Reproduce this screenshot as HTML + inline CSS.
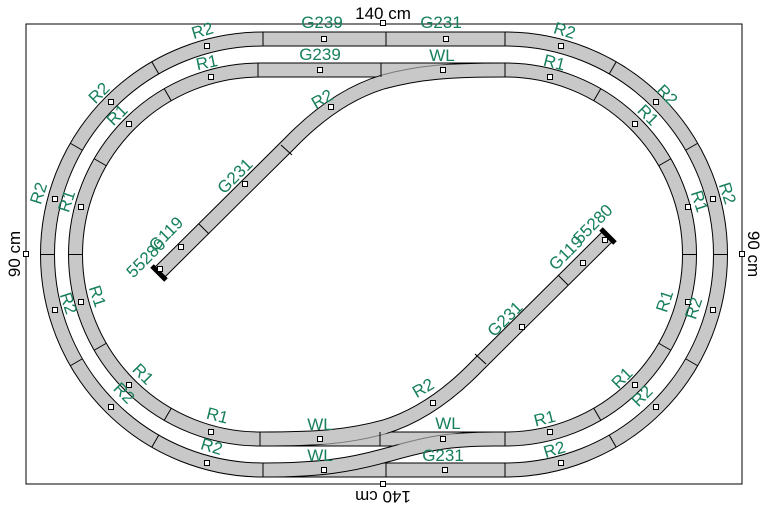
<!DOCTYPE html>
<html><head><meta charset="utf-8"><style>
html,body{margin:0;padding:0;background:#fff;}
svg{display:block;}
text{font-family:"Liberation Sans",sans-serif;font-size:17px;fill:#17805a;}
.k{fill:#000;}
</style></head><body>
<svg width="771" height="510" viewBox="0 0 771 510" xmlns="http://www.w3.org/2000/svg">
<rect x="26" y="24" width="716" height="460" fill="none" stroke="#000" stroke-width="1"/>
<g fill="none" stroke-linejoin="round">
<!-- outer loop -->
<path d="M263,39 H505 A215.5,215.5 0 0 1 505,470 H263 A215.5,215.5 0 0 1 263,39 Z" stroke="#000" stroke-width="15"/>
<path d="M263,39 H505 A215.5,215.5 0 0 1 505,470 H263 A215.5,215.5 0 0 1 263,39 Z" stroke="#c8c8c8" stroke-width="13"/>
<!-- inner loop -->
<path d="M260,70 H505 A184.5,184.5 0 0 1 505,439 H260 A184.5,184.5 0 0 1 260,70 Z" stroke="#000" stroke-width="15"/>
<path d="M260,70 H505 A184.5,184.5 0 0 1 505,439 H260 A184.5,184.5 0 0 1 260,70 Z" stroke="#c8c8c8" stroke-width="13"/>
<!-- top S -->
<path d="M505,70 C450,70 420,72 383,82 C350,92 320,112 290,143 L160,272" stroke="#000" stroke-width="15"/>
<path d="M505,70 C450,70 420,72 383,82 C350,92 320,112 290,143 L160,272" stroke="#c8c8c8" stroke-width="13"/>
<!-- bottom S -->
<path d="M262,439 C317,439 347,437 384,427 C417,417 447,397 477,366 L607,237" stroke="#000" stroke-width="15"/>
<path d="M262,439 C317,439 347,437 384,427 C417,417 447,397 477,366 L607,237" stroke="#c8c8c8" stroke-width="13"/>
<!-- bottom crossover -->
<path d="M495,439 C440,439 420,446 383,456 C350,465 320,470 265,470" stroke="#000" stroke-width="15"/>
<path d="M495,439 C440,439 420,446 383,456 C350,465 320,470 265,470" stroke="#c8c8c8" stroke-width="13"/>
<!-- restore main straights on top -->
<path d="M258,70 H505 M260,439 H505" stroke="#c8c8c8" stroke-width="11" opacity="0.6"/>
</g>
<g stroke="#000" stroke-width="1">
<!-- straight ties -->
<line x1="263" y1="32" x2="263" y2="46"/><line x1="386" y1="32" x2="386" y2="46"/><line x1="505" y1="32" x2="505" y2="46"/>
<line x1="263" y1="463" x2="263" y2="477"/><line x1="386" y1="463" x2="386" y2="477"/><line x1="505" y1="463" x2="505" y2="477"/>
<line x1="258" y1="63" x2="258" y2="77"/><line x1="381" y1="63" x2="381" y2="77"/><line x1="505" y1="63" x2="505" y2="77"/>
<line x1="260" y1="432" x2="260" y2="446"/><line x1="380" y1="432" x2="380" y2="446"/><line x1="505" y1="432" x2="505" y2="446"/>
<!-- outer curve ties -->
<line x1="158.75" y1="73.9" x2="151.75" y2="61.8"/><line x1="82.4" y1="150.25" x2="70.3" y2="143.25"/><line x1="40.5" y1="254.5" x2="54.5" y2="254.5"/>
<line x1="158.75" y1="435.1" x2="151.75" y2="447.2"/><line x1="82.4" y1="358.75" x2="70.3" y2="365.75"/>
<line x1="609.25" y1="73.9" x2="616.25" y2="61.8"/><line x1="685.6" y1="150.25" x2="697.7" y2="143.25"/><line x1="713.5" y1="254.5" x2="727.5" y2="254.5"/>
<line x1="609.25" y1="435.1" x2="616.25" y2="447.2"/><line x1="685.6" y1="358.75" x2="697.7" y2="365.75"/>
<!-- inner curve ties -->
<line x1="171.25" y1="100.8" x2="164.25" y2="88.7"/><line x1="106.3" y1="165.75" x2="94.2" y2="158.75"/><line x1="68.5" y1="254.5" x2="82.5" y2="254.5"/>
<line x1="171.25" y1="408.2" x2="164.25" y2="420.3"/><line x1="106.3" y1="343.25" x2="94.2" y2="350.25"/>
<line x1="593.75" y1="100.8" x2="600.75" y2="88.7"/><line x1="658.7" y1="165.75" x2="670.8" y2="158.75"/><line x1="682.5" y1="254.5" x2="696.5" y2="254.5"/>
<line x1="593.75" y1="408.2" x2="600.75" y2="420.3"/><line x1="658.7" y1="343.25" x2="670.8" y2="350.25"/>
<!-- S ties -->
<line x1="281" y1="145" x2="292" y2="155"/><line x1="199" y1="224" x2="209" y2="234"/>
<line x1="486" y1="364" x2="475" y2="354"/><line x1="568" y1="285" x2="558" y2="275"/>
</g>
<!-- bumpers -->
<line x1="152" y1="266" x2="166" y2="280" stroke="#000" stroke-width="5"/>
<line x1="615" y1="243" x2="601" y2="229" stroke="#000" stroke-width="5"/>
<g fill="#fff" stroke="#000" stroke-width="1">
<rect x="380.5" y="20.5" width="5" height="5"/><rect x="380.5" y="481.5" width="5" height="5"/>
<rect x="23.5" y="251.5" width="5" height="5"/><rect x="739.5" y="251.5" width="5" height="5"/>
<rect x="321.5" y="36.5" width="5" height="5"/><rect x="443.5" y="36.5" width="5" height="5"/>
<rect x="317.5" y="67.5" width="5" height="5"/><rect x="440.5" y="67.5" width="5" height="5"/>
<rect x="204.5" y="43.5" width="5" height="5"/><rect x="558.5" y="43.5" width="5" height="5"/>
<rect x="208.5" y="74.5" width="5" height="5"/><rect x="547.5" y="74.5" width="5" height="5"/>
<rect x="108.5" y="99.5" width="5" height="5"/><rect x="126.5" y="121.5" width="5" height="5"/>
<rect x="653.5" y="99.5" width="5" height="5"/><rect x="632.5" y="121.5" width="5" height="5"/>
<rect x="52.5" y="196.5" width="5" height="5"/><rect x="78.5" y="204.5" width="5" height="5"/>
<rect x="710.5" y="196.5" width="5" height="5"/><rect x="685.5" y="204.5" width="5" height="5"/>
<rect x="52.5" y="307.5" width="5" height="5"/><rect x="78.5" y="299.5" width="5" height="5"/>
<rect x="710.5" y="307.5" width="5" height="5"/><rect x="685.5" y="299.5" width="5" height="5"/>
<rect x="108.5" y="404.5" width="5" height="5"/><rect x="126.5" y="382.5" width="5" height="5"/>
<rect x="653.5" y="404.5" width="5" height="5"/><rect x="632.5" y="382.5" width="5" height="5"/>
<rect x="204.5" y="460.5" width="5" height="5"/><rect x="558.5" y="460.5" width="5" height="5"/>
<rect x="208.5" y="429.5" width="5" height="5"/><rect x="547.5" y="429.5" width="5" height="5"/>
<rect x="317.5" y="436.5" width="5" height="5"/><rect x="440.5" y="436.5" width="5" height="5"/>
<rect x="321.5" y="467.5" width="5" height="5"/><rect x="442.5" y="467.5" width="5" height="5"/>
<rect x="328.5" y="104.5" width="5" height="5"/><rect x="242.5" y="181.5" width="5" height="5"/><rect x="178.5" y="244.5" width="5" height="5"/>
<rect x="430.5" y="400.5" width="5" height="5"/><rect x="519.5" y="324.5" width="5" height="5"/><rect x="580.5" y="260.5" width="5" height="5"/>
<rect x="157.5" y="266.5" width="5" height="5"/><rect x="602.5" y="237.5" width="5" height="5"/>
</g>
<text class="k" x="383" y="19" text-anchor="middle" font-size="17">140 cm</text>
<text class="k" transform="translate(383,491) rotate(180)" text-anchor="middle">140 cm</text>
<text class="k" transform="translate(20,254) rotate(-90)" text-anchor="middle">90 cm</text>
<text class="k" transform="translate(748,254) rotate(90)" text-anchor="middle">90 cm</text>
<g text-anchor="middle">
<text x="322" y="28">G239</text><text x="441" y="28">G231</text>
<text x="320" y="60">G239</text><text x="442" y="61">WL</text>
<text transform="translate(204,36) rotate(-17)">R2</text>
<text transform="translate(563,36) rotate(17)">R2</text>
<text transform="translate(208,68) rotate(-12)">R1</text>
<text transform="translate(553,68) rotate(14)">R1</text>
<text transform="translate(103,97) rotate(-45)">R2</text>
<text transform="translate(121,119) rotate(-45)">R1</text>
<text transform="translate(663,99) rotate(45)">R2</text>
<text transform="translate(644,119) rotate(45)">R1</text>
<text transform="translate(325,104) rotate(-30)">R2</text>
<text transform="translate(44,195) rotate(-72)">R2</text>
<text transform="translate(72,203) rotate(-72)">R1</text>
<text transform="translate(722,195) rotate(72)">R2</text>
<text transform="translate(694,203) rotate(72)">R1</text>
<text transform="translate(239,180) rotate(-45)">G231</text>
<text transform="translate(170,238) rotate(-45)">G119</text>
<text transform="translate(150,262) rotate(-45)">55280</text>
<text transform="translate(92,298) rotate(72)">R1</text>
<text transform="translate(63,305) rotate(72)">R2</text>
<text transform="translate(139,378) rotate(45)">R1</text>
<text transform="translate(120,397) rotate(45)">R2</text>
<text transform="translate(216,421) rotate(14)">R1</text>
<text transform="translate(210,452) rotate(17)">R2</text>
<text x="320" y="430">WL</text><text x="448" y="429">WL</text>
<text x="320" y="461">WL</text><text x="443" y="461">G231</text>
<text transform="translate(546,424) rotate(-14)">R1</text>
<text transform="translate(556,455) rotate(-17)">R2</text>
<text transform="translate(626,382) rotate(-45)">R1</text>
<text transform="translate(646,400) rotate(-45)">R2</text>
<text transform="translate(670,303) rotate(-72)">R1</text>
<text transform="translate(699,310) rotate(-72)">R2</text>
<text transform="translate(426,393) rotate(-30)">R2</text>
<text transform="translate(509,323) rotate(-45)">G231</text>
<text transform="translate(570,257) rotate(-45)">G119</text>
<text transform="translate(597,228) rotate(-45)">55280</text>
</g>
</svg>
</body></html>
